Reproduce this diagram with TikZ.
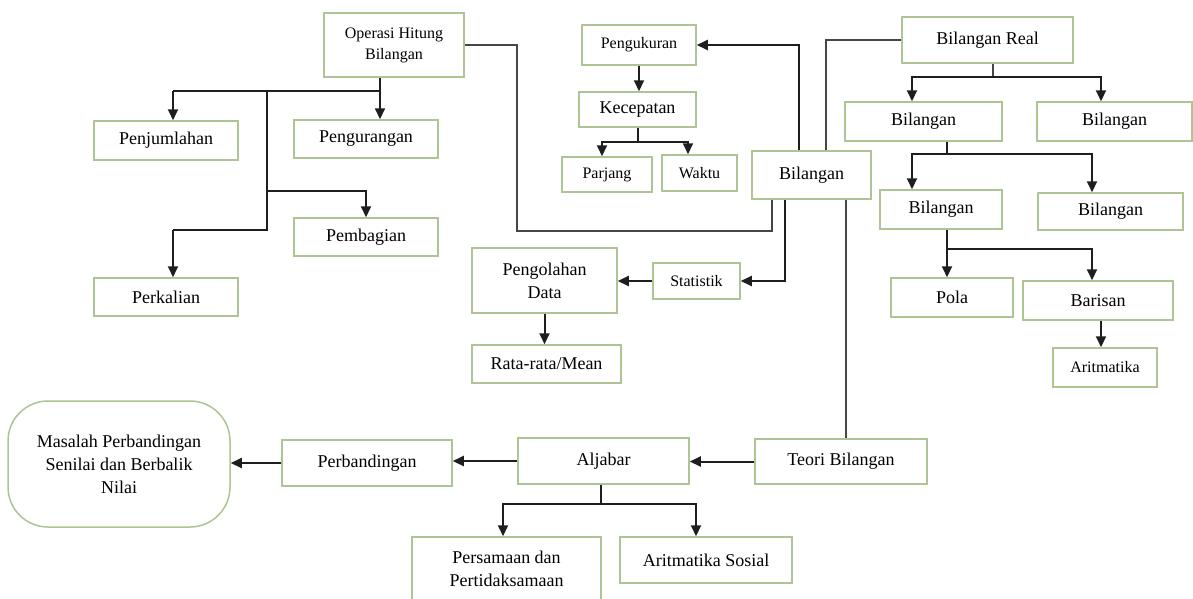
\documentclass[tikz,border=0pt]{standalone}
\usepackage{fontspec}
\setmainfont{Liberation Serif}
\usetikzlibrary{arrows.meta}
\definecolor{boxline}{RGB}{175,196,148}
\definecolor{wire}{RGB}{30,30,30}
\definecolor{thinwire}{RGB}{70,70,70}

\begin{document}
\begin{tikzpicture}[x=1pt,y=-1pt,
    box/.style={draw=boxline,line width=1.5pt,inner sep=0pt,align=center,font=\fontsize{18}{23}\selectfont},
    smallbox/.style={box,font=\fontsize{16}{21}\selectfont},
    wh/.style 2 args={minimum width=#1pt,minimum height=#2pt},
    line/.style={draw=wire,line width=2pt},
    arr/.style={line,-{Triangle[length=11pt,width=10pt]}},
    link/.style={draw=thinwire,line width=1.4pt}]
  \clip (0,0) rectangle (1193,598);

  % boxes
  \node[smallbox,wh={140}{64}] (ophitung) at (394,45) {Operasi Hitung\\Bilangan};
  \node[box,wh={144}{39}] (tambah) at (166,140.5) {Penjumlahan};
  \node[box,wh={144}{38}] (kurang) at (366,139) {Pengurangan};
  \node[box,wh={144}{38}] (bagi) at (366,237) {Pembagian};
  \node[box,wh={144}{38}] (kali) at (166,297) {Perkalian};
  \node[smallbox,wh={114}{40}] (ukur) at (639,45) {Pengukuran};
  \node[box,wh={117}{35}] (cepat) at (637.5,109.5) {Kecepatan};
  \node[smallbox,wh={90}{35}] (panjang) at (607,174.5) {Parjang};
  \node[smallbox,wh={75}{36}] (waktu) at (699.5,173) {Waktu};
  \node[box,wh={119}{48}] (bil) at (811.5,175) {Bilangan};
  \node[box,wh={171}{46}] (real) at (987.5,40) {Bilangan Real};
  \node[box,wh={157}{39}] (bilA) at (923.5,121.5) {Bilangan};
  \node[box,wh={155}{39}] (bilB) at (1114.5,121.5) {Bilangan};
  \node[box,wh={122}{39}] (bilC) at (941,209.5) {Bilangan};
  \node[box,wh={145}{37}] (bilD) at (1110.5,211.5) {Bilangan};
  \node[box,wh={122}{39}] (pola) at (952,297.5) {Pola};
  \node[box,wh={150}{39}] (barisan) at (1098,300.5) {Barisan};
  \node[smallbox,wh={104}{39}] (aritmatika) at (1105,367.5) {Aritmatika};
  \node[smallbox,wh={87}{36}] (statistik) at (696.5,281) {Statistik};
  \node[box,wh={145}{65}] (olah) at (544.5,280.5) {Pengolahan\\Data};
  \node[box,wh={149}{38}] (rata) at (546.5,364) {Rata-rata/Mean};
  \node[box,wh={172}{45}] (teori) at (841,461.5) {Teori Bilangan};
  \node[box,wh={171}{46}] (aljabar) at (603.5,461) {Aljabar};
  \node[box,wh={170}{46}] (banding) at (367,463) {Perbandingan};
  \node[box,rounded corners=40pt,wh={222}{126}] (masalah) at (119,464) {Masalah Perbandingan\\Senilai dan Berbalik\\Nilai};
  \node[box,wh={189}{64}] (persamaan) at (506.5,569) {Persamaan dan\\Pertidaksamaan};
  \node[box,wh={172}{46}] (sosial) at (706,560) {Aritmatika Sosial};

  % operasi hitung
  \coordinate (j1) at (380,91);
  \coordinate (j2) at (173,91);
  \coordinate (j3) at (267,91);
  \coordinate (j4) at (267,191);
  \coordinate (j5) at (267,230);
  \coordinate (j6) at (173,230);
  \draw[line] (ophitung.south -| j1) -- (j1) -- (j2);
  \draw[arr] (j2) -- (j2 |- tambah.north);
  \draw[arr] (j1) -- (j1 |- kurang.north);
  \draw[line] (j3) -- (j5) -- (j6);
  \draw[arr] (j4) -| (bagi.north);
  \draw[arr] (j6) -- (j6 |- kali.north);

  \coordinate (k1) at (517,231);
  \draw[link] (ophitung.east) -| (k1) -| ([xshift=-39.5pt]bil.south);

  % bilangan
  \draw[arr] ([xshift=-12.5pt]bil.north) |- (ukur.east);
  \draw[link] ([xshift=14.5pt]bil.north) |- (real.west);
  \draw[arr] (ukur.south) -- (ukur.south |- cepat.north);
  \coordinate (k2) at (637.5,142);
  \draw[line] (cepat.south) -- (k2);
  \draw[arr] (k2) -| ([xshift=-5pt]panjang.north);
  \draw[arr] (k2) -| ([xshift=-11.5pt]waktu.north);

  \draw[arr] ([xshift=-26.5pt]bil.south) |- (statistik.east);
  \draw[arr] (statistik.west) -- (statistik.west -| olah.east);
  \draw[arr] (olah.south) -- (olah.south |- rata.north);

  \coordinate (k3) at ([xshift=34.5pt]bil.south);
  \draw[link] (k3) -- (k3 |- teori.north);

  % aljabar
  \draw[arr] (teori.west) -- (teori.west -| aljabar.east);
  \draw[arr] (aljabar.west) -- (aljabar.west -| banding.east);
  \draw[arr] (banding.west) -- (banding.west -| masalah.east);
  \coordinate (k4) at (601,504);
  \draw[line] (aljabar.south -| k4) -- (k4);
  \draw[arr] (k4) -| ([xshift=-3.5pt]persamaan.north);
  \draw[arr] (k4) -| ([xshift=-10pt]sosial.north);

  % bilangan real
  \coordinate (r1) at (993,77);
  \draw[link] (real.south -| r1) -- (r1);
  \draw[arr] (r1) -| ([xshift=-11.5pt]bilA.north);
  \draw[arr] (r1) -| ([xshift=-13.5pt]bilB.north);
  \coordinate (r2) at (947,154);
  \draw[line] (bilA.south -| r2) -- (r2);
  \draw[arr] (r2) -| ([xshift=-29pt]bilC.north);
  \draw[arr] (r2) -| ([xshift=-18.5pt]bilD.north);
  \coordinate (r3) at (947,249);
  \draw[arr] (bilC.south -| r3) -- (r3 |- pola.north);
  \draw[arr] (r3) -| ([xshift=-6pt]barisan.north);
  \draw[arr] ([xshift=3pt]barisan.south) -- ([xshift=-4pt]aritmatika.north);
\end{tikzpicture}
\end{document}
